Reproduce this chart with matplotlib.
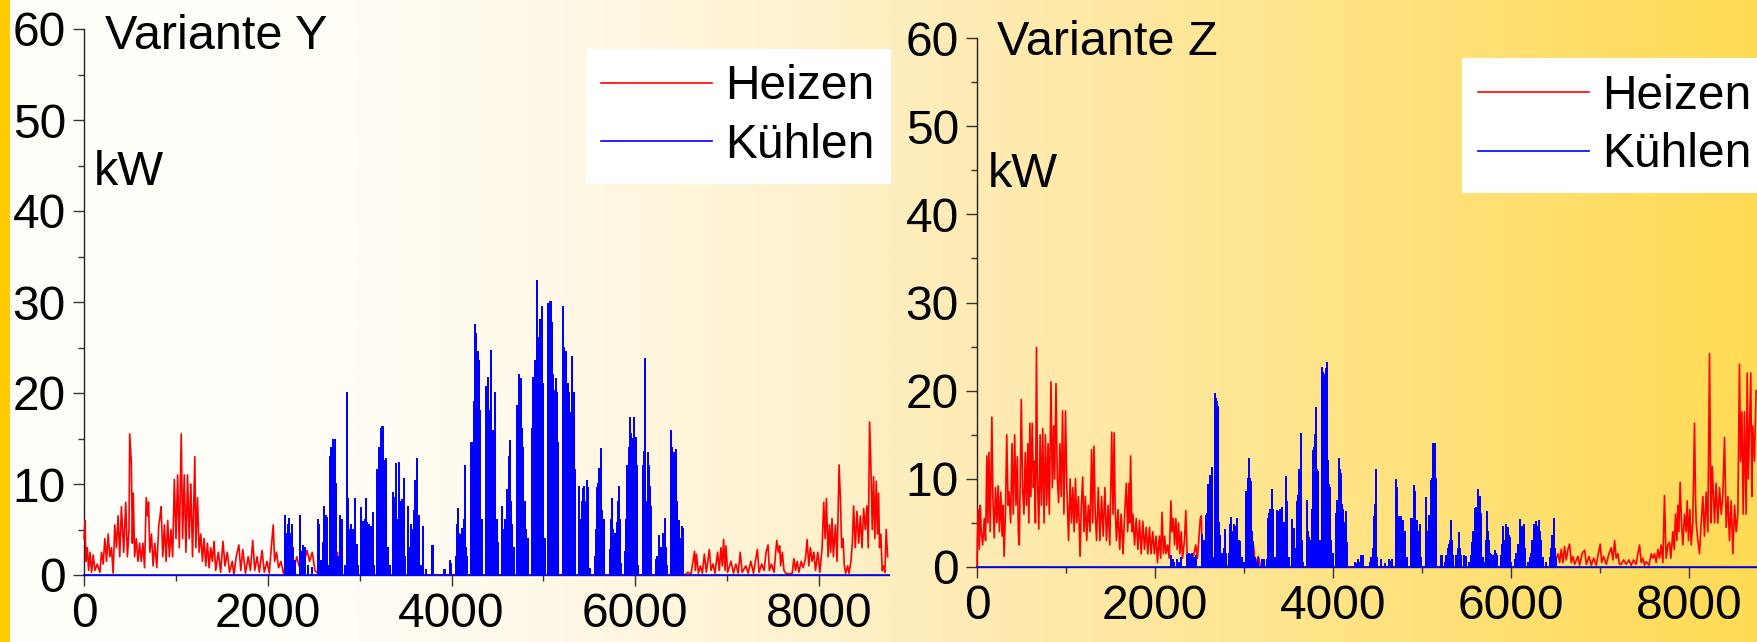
import numpy as np
import matplotlib
matplotlib.use("Agg")
import matplotlib.pyplot as plt
from matplotlib.colors import LinearSegmentedColormap
from matplotlib.patches import Rectangle
from matplotlib.ticker import MultipleLocator

plt.rcParams['font.family'] = ['Liberation Sans', 'DejaVu Sans']

# ---------------- data (hour of year, kW) ----------------
PANEL_TITLES = ["Variante Y", "Variante Z"]
SERIES_LABELS = ["Heizen", "Kühlen"]
X_TICKS = [0, 2000, 4000, 6000, 8000]
Y_TICKS = [0, 10, 20, 30, 40, 50, 60]
UNIT = "kW"
HOURS_IN_YEAR = 8760

HEAT_Y = [(0,4),(11,6),(22,1.5),(36,3),(50,0.5),(65,2.5),(83,0.3),(100,2.2),(119,0.5),(144,1.2),(173,0.3),
 (191,2.5),(209,1.2),(227,4),(245,1.5),(263,4.5),(281,2),(299,3),(317,0.2),(335,5.5),(353,3),(371,6.5),
 (389,2),(407,7.5),(432,2.5),(454,8),(472,2),(490,5),(497,15.5),(515,12.3),(526,3.5),(536,9),(551,2),
 (569,4),(587,1.5),(605,3.5),(623,1.5),(641,3.5),(659,0.8),(677,8.5),(691,6.5),(702,8),(716,2.5),(734,4.5),
 (752,1),(770,3.5),(792,0.8),(814,5.5),(828,6.5),(839,7.5),(857,2),(875,5.5),(893,1.5),(911,6),(929,2),
 (947,5),(965,2),(983,10.5),(1001,4),(1019,11),(1037,3),(1058,15.5),(1073,4),(1091,11),(1109,2.5),
 (1127,11),(1145,4),(1163,10),(1181,2),(1206,13),(1217,3),(1235,8.5),(1253,2.5),(1271,4.5),(1289,1.5),
 (1307,4),(1325,1),(1343,3.5),(1361,0.8),(1379,3),(1397,1.5),(1415,3.7),(1433,0.5),(1462,2.5),(1487,0.3),
 (1512,3.7),(1534,1),(1559,2.5),(1584,0.3),(1613,1.5),(1631,0),(1656,2),(1685,3.3),(1706,0.5),(1728,2.8),
 (1757,0.2),(1786,2),(1811,0.5),(1836,3.8),(1858,0.5),(1883,2),(1908,0.3),(1937,2.7),(1962,0.3),
 (1991,1.5),(2016,0.2),(2038,3),(2059,5.5),(2074,1.5),(2095,2.5),(2117,0.8),(2142,1.5),(2171,0.2),
 (2196,1.2),(2225,0.3),(2254,1.8),(2282,0.5),(2315,2.0),(2340,1.0),(2369,2.5),(2398,1.5),(2426,2.7),
 (2455,1.5),(2484,2.5),(2513,0.5),(2549,0.1),(2693,0),(2750,0),(2758,2.5),(2766,0),(2940,0),(2945,2.3),
 (2952,0),(6540,0),(6570,0.3),(6606,0.1),(6643,2.6),(6653,0.5),(6664,2.3),(6686,0.2),(6707,1),(6729,0.2),
 (6751,2.3),(6772,0.3),(6805,2.8),(6823,0.5),(6845,1.2),(6866,0.2),(6895,2.5),(6913,0.5),(6931,3),
 (6946,1),(6960,3.9),(6975,0.5),(6985,3.2),(7004,0.3),(7040,1.5),(7068,0.2),(7094,1.2),(7119,0.2),
 (7141,2.5),(7162,0.3),(7202,1),(7227,0.2),(7256,1.5),(7285,0.2),(7310,1.8),(7328,2.8),(7346,0.3),
 (7375,1.2),(7401,0.5),(7422,2.5),(7444,3.3),(7458,0.5),(7480,1.2),(7509,0.3),(7538,3.8),(7556,2.5),
 (7570,3.2),(7581,1),(7599,2.5),(7617,0.5),(7635,0.2),(7671,0.1),(7707,0.2),(7725,1.8),(7743,0.5),
 (7761,1.5),(7779,0.3),(7805,1.5),(7826,0.8),(7851,1.8),(7869,3.9),(7887,1),(7905,3),(7923,1.5),
 (7942,2.5),(7960,0.5),(7985,2.5),(8007,0.3),(8032,3),(8050,8),(8065,4),(8079,8.4),(8097,2),(8112,5.5),
 (8126,2.5),(8140,6.2),(8155,2),(8177,5.5),(8195,1.5),(8217,12.1),(8231,8.3),(8245,3),(8260,4),(8274,1),
 (8289,0.2),(8310,1),(8325,0.2),(8346,1.5),(8361,3.5),(8375,7.6),(8393,3),(8411,7),(8430,3.5),(8448,6.5),
 (8466,3),(8484,7.3),(8502,5),(8520,7.6),(8534,3),(8549,16.8),(8563,12),(8578,5),(8592,10.8),(8606,4),
 (8621,10.3),(8635,4.5),(8646,9),(8657,3),(8671,4.5),(8686,0.5),(8700,1),(8715,0.3),(8729,5),(8745,2)]

COOL_Y = [(2182,6.5),(2196,4),(2210,4.5),(2225,5.5),(2236,6.2),(2246,4.5),(2261,5.5),(2279,3),(2297,1.5),
 (2351,6.5),(2369,2.5),(2387,3.2),(2405,3),(2441,1),(2477,0.8),(2542,6),(2556,5.5),(2578,1.5),(2603,3.5),
 (2614,7.5),(2628,6.5),(2639,6.3),(2657,1),(2682,13),(2693,14),(2707,14.8),(2722,12),(2736,14.8),
 (2747,10),(2765,2),(2783,6.5),(2808,6),(2837,1),(2858,20),(2866,18.5),(2873,8.3),(2887,5),(2902,5.5),
 (2916,4.5),(2927,5),(2952,8.3),(2966,3.3),(2981,1),(3017,7.4),(3035,5.8),(3053,6),(3071,8.3),(3082,5.7),
 (3096,5.5),(3118,5.3),(3143,6.8),(3161,1),(3190,11.5),(3204,11),(3215,14),(3233,16),(3244,16.3),
 (3258,16.3),(3273,12.5),(3287,12.8),(3305,3),(3334,1),(3359,9),(3377,8.5),(3395,12.2),(3413,6),
 (3431,12.3),(3449,8),(3463,8.2),(3478,10.6),(3492,2),(3528,7.5),(3542,3),(3557,5.5),(3575,5),(3589,7),
 (3600,10.3),(3622,12.8),(3636,6),(3647,6.5),(3665,1),(3694,5.3),(3719,0.5),(3791,3.2),(3800,3.2),
 (3917,0.5),(3928,0.5),(3978,1.5),(3993,1.2),(4043,2),(4058,5.5),(4069,7.3),(4083,4.5),(4097,4.4),
 (4116,5.1),(4130,6),(4144,12),(4159,3),(4170,2),(4213,14.5),(4227,14.5),(4242,19),(4253,18),
 (4260,27.5),(4267,26.5),(4278,22.5),(4289,24.5),(4303,23.5),(4314,18),(4332,6),(4379,20.7),(4390,14),
 (4397,21.7),(4412,18),(4426,24.6),(4440,12),(4448,15.8),(4462,15.8),(4477,20),(4491,6),(4502,3.5),
 (4549,7.5),(4563,5),(4578,6),(4592,5),(4603,9.3),(4614,6),(4621,13),(4632,10),(4639,14.7),(4650,8),
 (4657,5.5),(4675,3),(4711,18.6),(4722,14),(4737,22),(4747,19),(4758,21.5),(4769,16),(4776,14),
 (4794,8),(4809,5),(4830,4),(4874,16),(4884,21.7),(4899,18),(4910,23.5),(4921,20),(4931,32.3),
 (4946,26),(4957,24.5),(4964,28),(4975,25),(4982,29.5),(4993,21),(5000,12),(5018,4),(5047,29.8),
 (5061,28),(5072,30),(5079,30),(5090,21),(5097,27.7),(5108,22),(5119,20.2),(5126,19),(5137,21.5),
 (5148,20),(5162,14.5),(5217,29.5),(5227,25),(5242,24.5),(5256,20),(5271,21),(5281,20),(5289,17.8),
 (5300,16),(5314,24),(5328,20),(5343,11.5),(5390,9.7),(5397,6),(5408,4),(5422,8),(5433,9.5),(5444,9.7),
 (5458,8),(5469,10.3),(5480,9.6),(5487,9.6),(5505,0.7),(5560,2),(5570,5),(5581,9.6),(5592,10),
 (5603,11.7),(5614,11.5),(5625,13.8),(5635,7),(5643,4.3),(5657,6),(5722,2.8),(5736,6),(5747,8.3),
 (5758,5),(5765,3.3),(5783,4.5),(5794,3.5),(5801,5.7),(5812,8),(5823,9.7),(5834,6),(5841,1.2),
 (5884,2.5),(5902,6),(5913,12),(5928,14),(5938,17.2),(5949,15.5),(5957,15.4),(5971,15),(5982,17.3),
 (5993,15),(6011,15.1),(6022,12),(6029,1),(6083,12),(6094,13.5),(6108,23.7),(6123,8),(6137,13.4),
 (6148,12),(6155,9.7),(6173,7.5),(6220,1.7),(6238,2),(6256,4.3),(6271,2.5),(6282,3),(6296,4),(6303,4.5),
 (6318,6.2),(6336,3),(6347,1),(6390,15.8),(6401,14),(6408,13.4),(6419,13),(6426,13.4),(6437,13),
 (6444,13.7),(6455,8),(6462,5.3),(6480,5.9),(6491,4),(6505,5.3),(6516,5.1)]

HEAT_Z = [(0,0),(4,3),(15,6.5),(26,2),(37,7),(48,4),(63,2.5),(82,5.5),(96,3),(111,12.6),(122,5),(134,13),
 (148,4),(167,17),(178,8),(193,3.3),(208,9),(223,5),(237,9.2),(252,4),(267,8.5),(282,3.5),(293,7),
 (304,1.2),(319,6),(334,15),(349,7),(360,8.5),(378,5),(393,14),(408,6),(423,15),(438,7),(453,12.5),
 (464,4),(475,2.5),(486,10),(497,19),(512,9),(527,6),(542,13),(556,7),(571,14),(582,5),(594,16.3),
 (605,8),(620,16.3),(634,9),(645,12),(656,5),(668,24.9),(679,10),(694,4.3),(709,15),(723,7),(738,15.7),
 (753,5),(768,15),(783,7),(798,14),(812,6),(831,21),(846,9),(861,16),(872,10),(887,20.8),(902,10),
 (917,7.3),(931,14),(946,8),(961,17.7),(976,6),(994,17.7),(1009,9),(1028,3),(1046,10),(1061,5),
 (1076,9),(1091,4),(1106,10),(1120,5),(1139,8),(1157,1.2),(1172,7),(1187,10.2),(1202,4),(1217,8),
 (1232,3),(1250,7),(1269,4),(1287,13.3),(1299,5),(1313,13.7),(1328,6),(1343,3),(1362,9),(1380,3),
 (1399,8),(1417,3.5),(1436,9),(1454,3),(1473,7),(1491,2.5),(1503,9),(1513,15.3),(1528,6),(1540,15.2),
 (1551,7),(1566,3),(1584,6.5),(1603,2),(1618,6),(1632,3.5),(1640,1.5),(1658,6),(1677,9.5),(1692,4),
 (1707,9.5),(1714,5),(1725,12.6),(1740,4),(1751,6),(1770,2.5),(1788,5.5),(1807,2),(1825,5.3),(1844,1.5),
 (1862,5.2),(1881,2),(1900,4.5),(1918,1.5),(1937,4.5),(1955,1.5),(1974,4),(1992,1.5),(2011,3.5),
 (2026,0.5),(2048,3.5),(2063,1),(2078,6.2),(2093,1.5),(2107,3.5),(2122,1.5),(2141,2.5),(2159,1),
 (2178,7.5),(2189,4),(2204,5.5),(2219,2.5),(2233,5.5),(2248,2),(2263,5),(2278,1.5),(2293,4),(2308,1),
 (2330,3),(2345,6.4),(2360,1.5),(2382,1),(2411,0.3),(2437,1.5),(2456,2.5),(2475,1),(2493,3.5),
 (2508,5.5),(2519,5.8),(2530,1),(2567,0.5),(2642,0.3),(2753,0.2),(3087,0),(3105,2.5),(3124,0.3),
 (3161,1.2),(3180,0.2),(3200,0),(6468,0),(6525,1.5),(6543,0.5),(6562,2),(6581,0.5),(6599,2.3),(6618,0.8),
 (6637,2),(6655,2.6),(6674,0.5),(6693,1.2),(6712,0.3),(6749,1.2),(6768,0.2),(6798,1.6),(6824,1.9),
 (6843,0.3),(6873,1.2),(6899,0.2),(6925,1),(6955,0.2),(6977,1.5),(7000,2.6),(7015,0.5),(7037,1.2),
 (7067,0.3),(7097,1.5),(7123,2.2),(7142,0.8),(7161,3),(7179,1),(7198,1.5),(7216,0.3),(7235,0.3),
 (7261,0.8),(7291,0.3),(7321,0.8),(7347,0.2),(7373,0.8),(7403,0.3),(7422,1.5),(7441,2.5),(7459,0.5),
 (7478,1),(7497,0.2),(7516,0.6),(7546,0.2),(7572,1.5),(7590,1),(7609,1.5),(7628,0.5),(7647,2),(7665,1),
 (7684,2.5),(7703,0.5),(7721,8.1),(7733,3),(7740,1),(7759,2.5),(7777,2.8),(7792,1),(7815,4),(7830,2),
 (7845,6),(7860,3),(7871,7),(7882,4),(7897,9.6),(7912,5),(7927,2.5),(7946,6),(7964,4),(7976,7.5),
 (7991,3),(8006,6.5),(8021,2.5),(8039,5),(8058,16.3),(8069,8),(8077,5),(8096,3),(8114,1.5),(8133,5),
 (8152,8),(8170,3.5),(8189,8.5),(8208,4),(8227,24.2),(8238,10),(8245,5),(8257,11.4),(8272,8),(8283,5),
 (8301,9.5),(8320,5),(8339,9),(8358,6),(8376,8),(8395,14.7),(8414,4.5),(8433,8),(8451,3),(8470,7.5),
 (8489,1.5),(8508,7),(8526,4),(8545,6),(8563,23),(8575,12),(8590,17.6),(8605,6),(8619,17.6),(8638,6),
 (8650,22),(8662,10),(8676,16),(8690,22),(8702,8),(8712,16),(8731,12),(8750,20)]

COOL_Z = [(2178,1.3),(2196,0.8),(2215,0.5),(2241,0.8),(2263,0.5),(2289,1),(2363,1.4),(2382,1.5),(2400,1.4),
 (2419,1.5),(2437,1),(2463,1.3),(2530,3.6),(2545,3),(2567,5.8),(2582,6),(2597,9.3),(2612,10.3),(2623,9),
 (2634,11.2),(2649,1),(2671,19.6),(2679,19),(2690,18.7),(2701,17),(2708,18.1),(2723,5),(2734,3.5),
 (2753,1.5),(2771,2),(2782,4.2),(2797,1.5),(2827,1.5),(2845,4.8),(2856,5.6),(2871,4),(2882,4.8),
 (2901,4.5),(2919,5.5),(2938,3),(2956,2.8),(2975,1),(2994,0.5),(3020,8.5),(3031,8),(3042,10),(3057,12.3),
 (3068,10),(3079,9.6),(3094,4),(3105,2.8),(3124,1),(3142,0.5),(3161,1),(3198,0.8),(3222,0.8),(3252,0.8),
 (3271,5.5),(3282,6),(3289,6.5),(3308,8.7),(3319,6.5),(3327,6.5),(3346,1),(3364,6.3),(3375,5.5),
 (3383,5),(3394,6.2),(3402,6.5),(3420,6.7),(3432,3.5),(3439,4),(3450,5),(3458,4.3),(3469,10.2),
 (3484,7.4),(3499,1),(3533,5.3),(3544,2),(3559,4.3),(3574,2),(3589,7.4),(3604,8),(3619,11),(3626,10),
 (3637,15.1),(3648,3),(3656,0.5),(3701,4),(3708,7.5),(3720,4),(3731,3.3),(3746,3),(3757,6.5),(3768,9),
 (3776,13.2),(3787,13.5),(3798,15),(3806,18),(3820,11),(3832,10.8),(3850,3),(3862,2),(3873,20),
 (3880,22.6),(3888,22),(3895,21.8),(3907,21),(3914,22),(3925,22.5),(3933,23.1),(3944,12),(3951,9.3),
 (3963,9),(3970,3.5),(3981,3),(3993,1.5),(4037,6),(4045,7.5),(4060,10),(4071,12.3),(4082,11),(4090,10.5),
 (4101,7),(4112,6.5),(4127,5),(4142,6.2),(4157,2.7),(4243,0.5),(4262,0.3),(4280,0.8),(4299,0.5),
 (4318,1.2),(4337,1.2),(4411,0.5),(4430,1),(4449,2),(4456,5.7),(4468,7),(4479,11),(4494,1),(4542,0.8),
 (4580,0.3),(4625,0.8),(4643,0.6),(4662,0.8),(4703,5),(4711,9.9),(4722,9),(4741,5.7),(4752,5.5),
 (4767,5.7),(4778,5),(4785,5.2),(4797,4),(4812,4),(4830,1),(4879,5.5),(4890,5),(4898,5.5),(4909,9.2),
 (4916,7),(4924,8.5),(4935,5),(4946,5.2),(4961,4),(4972,4.8),(4991,1),(5047,7.8),(5058,4),(5073,5.8),
 (5085,5.8),(5096,7),(5103,9.8),(5114,10),(5122,13.9),(5133,13.5),(5141,14),(5152,10),(5159,1),
 (5216,1.2),(5227,1.3),(5253,0.5),(5272,1.3),(5290,2),(5298,2.5),(5309,3),(5320,5.2),(5331,3),
 (5346,1.2),(5384,1.2),(5402,2),(5410,3.9),(5421,2),(5440,1.3),(5466,1.2),(5496,1.1),(5526,0.5),
 (5552,1.3),(5560,2.7),(5571,4),(5590,6.6),(5601,5),(5608,6.7),(5616,5.5),(5627,8.7),(5638,7),
 (5646,7.9),(5657,6),(5664,3.2),(5683,1),(5702,0.5),(5721,3),(5728,6.2),(5739,4),(5747,3),(5758,1.5),
 (5777,1.4),(5795,1.2),(5814,1.8),(5825,1.5),(5840,1.2),(5889,1.2),(5900,2.5),(5907,4.5),(5922,3),
 (5937,4.8),(5952,4),(5964,4.4),(5975,3.5),(5982,3.3),(6001,0.5),(6038,0.8),(6057,1.5),(6076,2.5),
 (6094,5.3),(6109,4),(6124,4.5),(6139,4.8),(6158,2),(6188,0.5),(6214,1),(6225,1.5),(6237,3),(6252,4.8),
 (6267,4),(6281,5.1),(6296,4.5),(6311,5.2),(6326,4),(6337,3),(6356,1),(6393,0.5),(6431,1),(6450,2),
 (6461,3.5),(6476,5.4),(6491,2),(6506,1)]

HEAT_SERIES = [HEAT_Y, HEAT_Z]
COOL_SERIES = [COOL_Y, COOL_Z]

# ---------------- styling ----------------
W, H = 1757, 642
HEAT_COLOR = "#FF0000"
COOL_COLOR = "#0000FF"
TICK_FS = 34.5
TEXT_FS = 35
LEG_FS = 34.5

fig = plt.figure(figsize=(W / 100, H / 100), dpi=100)

# background gradient
bg = fig.add_axes([0, 0, 1, 1], zorder=-10)
grad_cmap = LinearSegmentedColormap.from_list("bg", [
    (0.00, "#FFFFFA"), (0.20, "#FFFDF6"), (0.30, "#FFF9EA"), (0.45, "#FEF2D0"),
    (0.52, "#FEEDBC"), (0.72, "#FFE590"), (0.80, "#FFE27E"), (1.00, "#FFDB55")])
bg.imshow(np.linspace(0, 1, 1024)[None, :], aspect="auto", cmap=grad_cmap,
          extent=[0, 1, 0, 1], interpolation="bilinear")
bg.set_xlim(0, 1); bg.set_ylim(0, 1)
bg.axis("off")
fig.add_artist(Rectangle((0, 0), 10 / W, 1, transform=fig.transFigure,
                         facecolor="#FFCC00", edgecolor="none", zorder=-5))

axes_rects = [
    [84 / W, (H - 575) / H, 805 / W, 546 / H],
    [977 / W, (H - 567) / H, 780 / W, 529 / H],
]
title_pos = [(0.026, 0.963), (0.0256, 0.968)]
unit_pos = [(0.0124, 0.714), (0.014, 0.718)]
legend_anchor = [(1.002, 0.964), (1.013, 0.962)]

for i, rect in enumerate(axes_rects):
    ax = fig.add_axes(rect)
    ax.set_facecolor("none")
    ax.set_xlim(0, HOURS_IN_YEAR)
    ax.set_ylim(0, 60)

    hh = np.array([p[0] for p in HEAT_SERIES[i]], dtype=float)
    hv = np.array([p[1] for p in HEAT_SERIES[i]], dtype=float)
    ax.plot(hh, hv, color=HEAT_COLOR, lw=1.2, zorder=3, clip_on=False,
            label=SERIES_LABELS[0])

    ch = np.array([p[0] for p in COOL_SERIES[i]], dtype=float)
    cv = np.array([p[1] for p in COOL_SERIES[i]], dtype=float)
    z = np.zeros_like(cv)
    cx = np.concatenate([[0], np.repeat(ch, 3), [HOURS_IN_YEAR]])
    cy = np.concatenate([[0], np.column_stack([z, cv, z]).ravel(), [0]])
    ax.plot(cx, cy, color=COOL_COLOR, lw=1.2, zorder=4, clip_on=False,
            label=SERIES_LABELS[1])

    for s in ("top", "right"):
        ax.spines[s].set_visible(False)
    for s in ("left", "bottom"):
        ax.spines[s].set_linewidth(1.0)
        ax.spines[s].set_color("#222222")

    ax.set_xticks(X_TICKS)
    ax.set_yticks(Y_TICKS)
    ax.xaxis.set_minor_locator(MultipleLocator(1000))
    ax.yaxis.set_minor_locator(MultipleLocator(5))
    ax.tick_params(which="major", length=8, width=1.0, color="#333333",
                   labelsize=TICK_FS, pad=4, direction="out")
    ax.tick_params(which="minor", length=4, width=1.0, color="#333333",
                   direction="out")
    ax.tick_params(axis="y", which="major", pad=5)

    ax.text(title_pos[i][0], title_pos[i][1], PANEL_TITLES[i], transform=ax.transAxes,
            fontsize=TEXT_FS, ha="left", va="baseline")
    ax.text(unit_pos[i][0], unit_pos[i][1], UNIT, transform=ax.transAxes,
            fontsize=TEXT_FS, ha="left", va="baseline")

    leg = ax.legend(loc="upper right", bbox_to_anchor=legend_anchor[i],
                    fontsize=LEG_FS, frameon=True, fancybox=False, shadow=False,
                    handlelength=2.32, handletextpad=0.27, borderpad=0.33,
                    labelspacing=0.28, borderaxespad=0)
    leg.get_frame().set_facecolor("white")
    leg.get_frame().set_edgecolor("none")
    leg.get_frame().set_alpha(1)
    for line in leg.get_lines():
        line.set_linewidth(1.2)

fig.savefig("out.png", dpi=100)
